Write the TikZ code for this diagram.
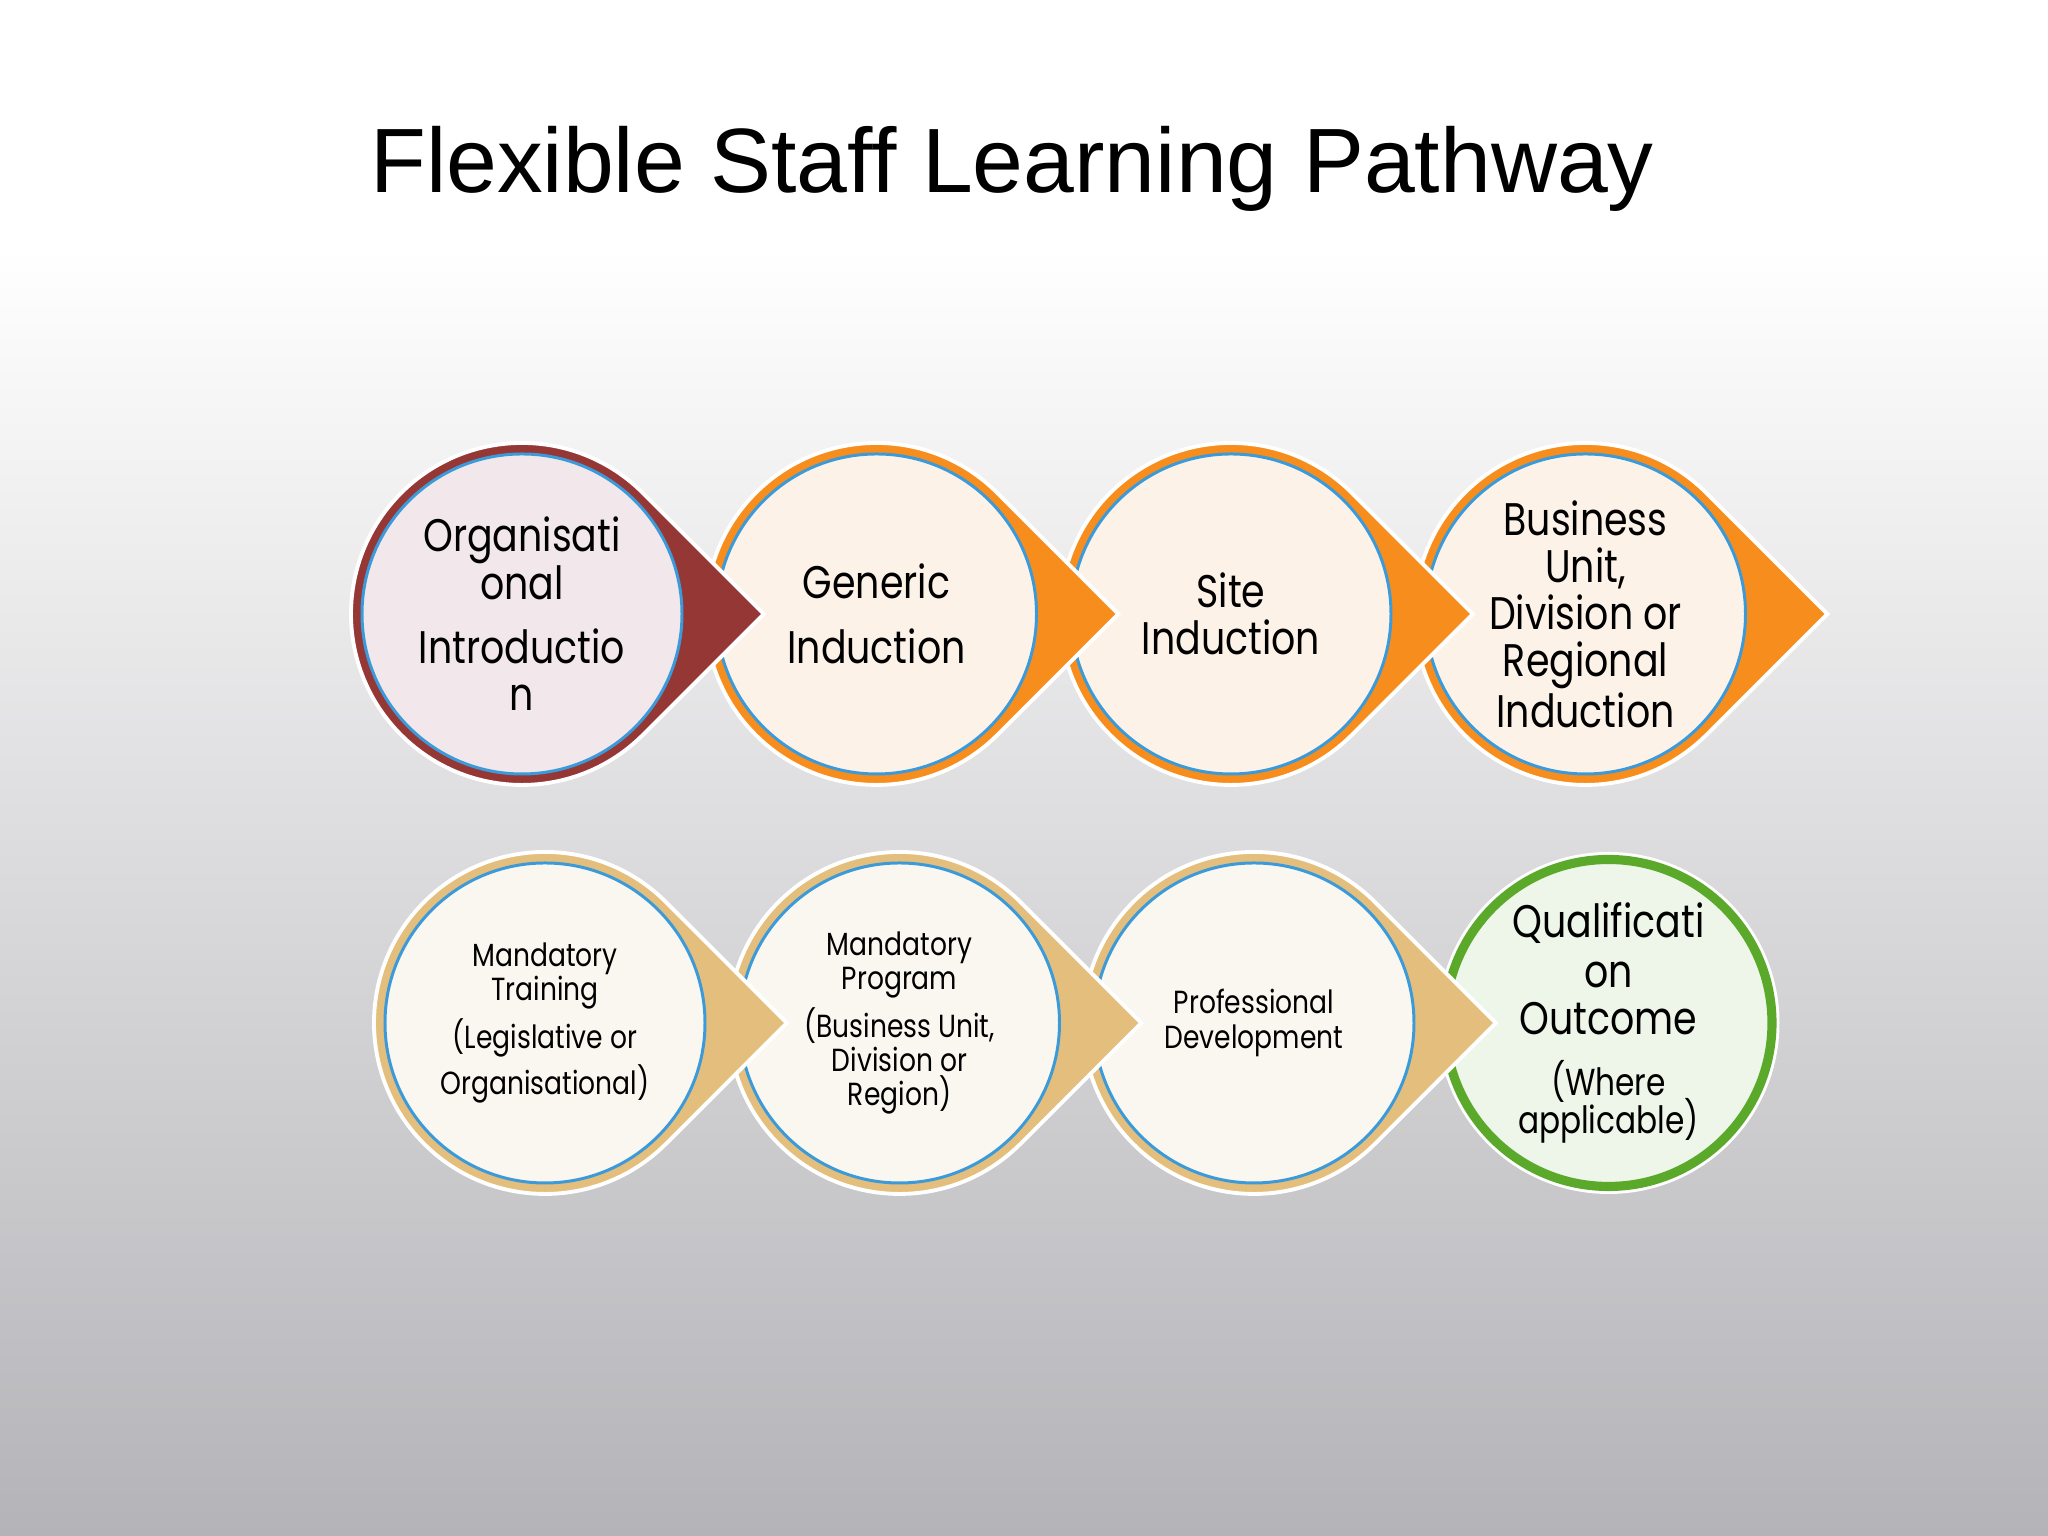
\documentclass[tikz,border=0pt]{standalone}
\usepackage{fontspec}
\usetikzlibrary{positioning}

\newfontfamily\titlefont{Liberation Sans}
\newfontfamily\stepfont[FakeStretch=0.83]{Poppins}

\definecolor{wine}{HTML}{953735}
\definecolor{amber}{HTML}{F78D1C}
\definecolor{sand}{HTML}{E4BE7C}
\definecolor{leaf}{HTML}{5BA92B}
\definecolor{ringblue}{HTML}{3B9BDA}
\definecolor{blush}{HTML}{F2E8EC}
\definecolor{cream}{HTML}{FDF2E8}
\definecolor{ivory}{HTML}{FAF7F0}
\definecolor{mint}{HTML}{EEF5E9}
\definecolor{bgbottom}{HTML}{B4B3B7}

\pgfdeclareverticalshading{slidebg}{100bp}{color(0bp)=(bgbottom); color(25bp)=(bgbottom); color(67bp)=(white); color(100bp)=(white)}

\begin{document}
\begin{tikzpicture}[
    tear/.pic={
      \path[pic actions] (0,0) ++(45:1.71) -- ++(1.209,-1.209) -- ++(-1.209,-1.209)
        arc[start angle=-45, end angle=-315, radius=1.71] -- cycle;
    },
    tearline/.style={draw=white, line width=1.1pt},
    stepcirc/.style={circle, draw=ringblue, line width=0.85pt, minimum size=3.2cm,
      inner sep=0pt, align=center, text=black},
    bigtext/.style={font=\stepfont\fontsize{13}{13.4}\selectfont},
    smalltext/.style={font=\stepfont\fontsize{9.1}{9.7}\selectfont}
  ]
  \useasboundingbox (0,0) rectangle (20.48,15.36);
  \shade[shading=slidebg] (0,0) rectangle (20.48,15.36);

  \node[font=\titlefont\fontsize{26}{30}\selectfont, anchor=base] (title) at (10.12,13.43)
    {Flexible Staff Learning Pathway};

  % top row
  \coordinate (c1) at (5.22,9.22);
  \coordinate[right=3.545cm of c1] (c2);
  \coordinate[right=3.545cm of c2] (c3);
  \coordinate[right=3.545cm of c3] (c4);

  \pic[tearline, fill=amber] at (c4) {tear};
  \node[stepcirc, bigtext, fill=cream] (bu) at (c4)
    {Business\\Unit,\\Division or\\Regional\\Induction};
  \pic[tearline, fill=amber] at (c3) {tear};
  \node[stepcirc, bigtext, fill=cream] (site) at (c3) {Site\\Induction};
  \pic[tearline, fill=amber] at (c2) {tear};
  \node[stepcirc, bigtext, fill=cream] (gen) at (c2) {Generic\\[5pt]Induction};
  \pic[tearline, fill=wine] at (c1) {tear};
  \node[stepcirc, bigtext, fill=blush] (org) at (c1)
    {Organisati\\onal\\[5pt]Introductio\\n};

  % bottom row
  \coordinate (c5) at (5.45,5.13);
  \coordinate[right=3.545cm of c5] (c6);
  \coordinate[right=3.545cm of c6] (c7);
  \coordinate[right=3.545cm of c7] (c8);

  \fill[white] (c8) circle (1.71);
  \node[stepcirc, bigtext, draw=leaf, line width=2.6pt, minimum size=3.27cm, fill=mint] (qual) at (c8)
    {Qualificati\\[0.8pt]on\\Outcome\\[4.2pt]\fontsize{10.7}{12}\selectfont(Where\\[-2.6pt]\fontsize{10.7}{12}\selectfont applicable)};
  \pic[tearline, fill=sand] at (c7) {tear};
  \node[stepcirc, smalltext, fill=ivory] (prof) at (c7) {Professional\\Development};
  \pic[tearline, fill=sand] at (c6) {tear};
  \node[stepcirc, smalltext, fill=ivory] (mprog) at (c6)
    {Mandatory\\Program\\[1.5pt](Business Unit,\\Division or\\Region)};
  \pic[tearline, fill=sand] at (c5) {tear};
  \node[stepcirc, smalltext, fill=ivory] (mtrain) at (c5)
    {Mandatory\\Training\\[1.5pt](Legislative or\\[1.2pt]Organisational)};
\end{tikzpicture}
\end{document}
